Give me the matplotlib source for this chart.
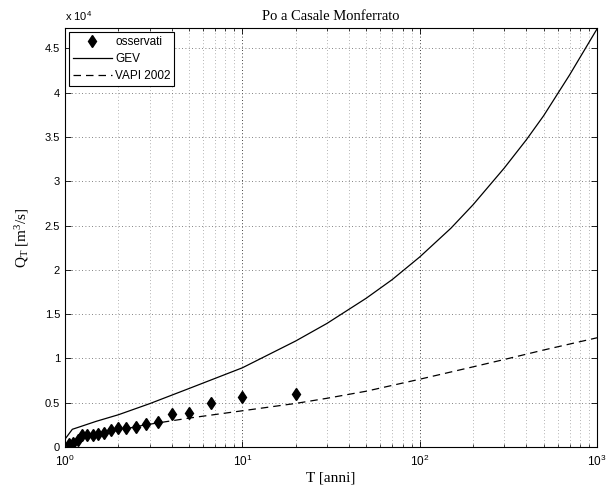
import matplotlib
matplotlib.use('Agg')
import matplotlib.pyplot as plt
from matplotlib.ticker import FixedLocator, NullFormatter, LogLocator

plt.rcParams['font.family'] = 'Liberation Sans'
plt.rcParams['mathtext.fontset'] = 'custom'
plt.rcParams['mathtext.rm'] = 'Liberation Serif'
plt.rcParams['mathtext.it'] = 'Liberation Serif:italic'
plt.rcParams['mathtext.sf'] = 'Liberation Sans'

# observed annual maxima (return period T, discharge)
T_obs = [1.05, 1.11, 1.18, 1.25, 1.33, 1.43, 1.54, 1.67, 1.82, 2.0,
         2.22, 2.5, 2.86, 3.33, 4.0, 5.0, 6.67, 10.0, 20.0]
Q_obs = [340, 490, 800, 1330, 1360, 1400, 1440, 1630, 1970, 2120,
         2160, 2310, 2650, 2800, 3670, 3830, 5000, 5640, 5980]

# GEV curve
T_gev = [1.01, 1.1, 1.2, 1.5, 2, 3, 5, 10, 20, 30, 50, 70, 100, 150,
         200, 300, 400, 500, 700, 1000]
Q_gev = [1000, 2000, 2250, 2900, 3640, 4890, 6600, 8940, 11970, 13950,
         16800, 18900, 21450, 24700, 27350, 31500, 34700, 37400, 42000, 47200]

# VAPI 2002 curve
T_vapi = [1.0, 1.05, 1.2, 1.5, 2, 2.84, 5, 10, 20, 30, 50, 100, 200, 300, 500, 1000]
Q_vapi = [200, 500, 900, 1400, 1900, 2500, 3260, 4090, 4920, 5500, 6300,
          7650, 9050, 9880, 10950, 12330]

yticks = [0, 5000, 10000, 15000, 20000, 25000, 30000, 35000, 40000, 45000]
ylabels = ['0', '0.5', '1', '1.5', '2', '2.5', '3', '3.5', '4', '4.5']

fig = plt.figure(figsize=(6.13, 4.91), dpi=100)
ax = fig.add_axes([0.106, 0.0896, 0.868, 0.8534])

ax.plot(T_obs, Q_obs, 'kd', markersize=6.5, label='osservati')
ax.plot(T_gev, Q_gev, 'k-', linewidth=0.9, label='GEV')
ax.plot(T_vapi, Q_vapi, 'k--', linewidth=0.9, dashes=(6, 4), label='VAPI 2002')

ax.set_xscale('log')
ax.set_xlim(1, 1000)
ax.set_ylim(0, 47300)
ax.xaxis.set_major_locator(FixedLocator([1, 10, 100, 1000]))
ax.xaxis.set_minor_locator(LogLocator(base=10, subs=range(2, 10)))
ax.xaxis.set_minor_formatter(NullFormatter())
ax.set_xticks([1, 10, 100, 1000])
ax.set_xticklabels(['$\\mathsf{10^{0}}$', '$\\mathsf{10^{1}}$', '$\\mathsf{10^{2}}$', '$\\mathsf{10^{3}}$'])
ax.set_yticks(yticks)
ax.set_yticklabels(ylabels)

ax.tick_params(which='both', direction='in', top=True, right=True, labelsize=8)
ax.tick_params(axis='x', labelsize=8.5)
ax.tick_params(which='major', length=4, width=0.6)
ax.tick_params(which='minor', length=2, width=0.5)
ax.tick_params(axis='x', pad=5)

ax.grid(True, which='major', axis='y', linestyle=(0, (1, 3)), color='0.35', linewidth=0.6)
ax.grid(True, which='major', axis='x', linestyle=(0, (1, 3)), color='k', linewidth=0.6)
ax.grid(True, which='minor', axis='x', linestyle=(0, (1, 3)), color='0.6', linewidth=0.6)
for s in ax.spines.values():
    s.set_linewidth(0.8)

ax.set_title('Po a Casale Monferrato', family='Liberation Serif', fontsize=10.5, pad=6)
ax.set_xlabel('T [anni]', family='Liberation Serif', fontsize=11, labelpad=2)
ax.set_ylabel('Q$_\\mathrm{T}$ [m$^\\mathrm{3}$/s]', family='Liberation Serif', fontsize=11, labelpad=10)
ax.text(0.0, 1.012, 'x 10$^\\mathsf{4}$', transform=ax.transAxes, fontsize=8, va='bottom', ha='left')

leg = ax.legend(loc='upper left', fontsize=8.5, fancybox=False, framealpha=1,
                edgecolor='k', borderpad=0.3, labelspacing=0.45, handlelength=3.3,
                handletextpad=0.3, borderaxespad=0.35)
leg.get_frame().set_linewidth(0.8)

fig.savefig('out.png', dpi=100)
